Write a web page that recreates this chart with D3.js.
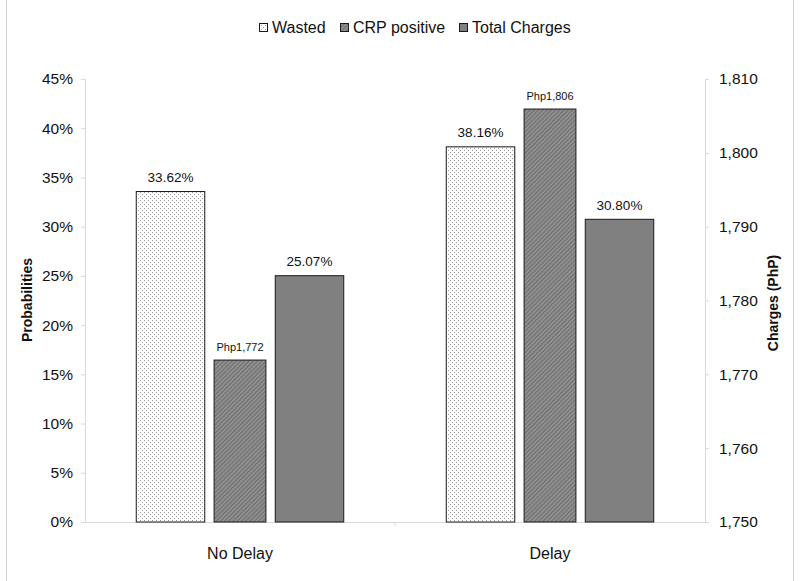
<!DOCTYPE html>
<html>
<head>
<meta charset="utf-8">
<script src="https://cdn.jsdelivr.net/npm/d3@7"></script>
<style>
  html, body { margin: 0; padding: 0; background: #fff; }
  svg { display: block; font-family: "Liberation Sans", Arial, sans-serif; }
</style>
</head>
<body>
<svg id="chart" width="800" height="581"></svg>
<script>
// ---- data ----
const categories = ["No Delay", "Delay"];
const seriesNames = ["Wasted", "CRP positive", "Total Charges"];
const wastedValues = [33.62, 38.16];          // % (left axis)
const chargesValues = [1772, 1806];           // PhP (right axis, hatched bar)
const thirdValues = [25.07, 30.80];           // % (left axis)
const leftTicks = [0, 5, 10, 15, 20, 25, 30, 35, 40, 45];
const rightTicks = [1750, 1760, 1770, 1780, 1790, 1800, 1810];

const svg = d3.select("#chart");
const W = 800, H = 581;
const m = { left: 85, right: 705, top: 79, bottom: 522 };

// patterns
const defs = svg.append("defs");
const dots = defs.append("pattern").attr("id", "dots")
  .attr("patternUnits", "userSpaceOnUse").attr("width", 4).attr("height", 4);
dots.append("rect").attr("width", 4).attr("height", 4).attr("fill", "#fff");
dots.append("rect").attr("x", 0).attr("y", 0).attr("width", 1).attr("height", 1).attr("fill", "#999");
dots.append("rect").attr("x", 2).attr("y", 2).attr("width", 1).attr("height", 1).attr("fill", "#999");

const hatch = defs.append("pattern").attr("id", "hatch")
  .attr("patternUnits", "userSpaceOnUse").attr("width", 3).attr("height", 3)
  .attr("patternTransform", "rotate(45)");
hatch.append("rect").attr("width", 3).attr("height", 3).attr("fill", "#959595");
hatch.append("line").attr("x1", 0.75).attr("y1", 0).attr("x2", 0.75).attr("y2", 3)
  .attr("stroke", "#666").attr("stroke-width", 1.1);

const fills = ["url(#dots)", "url(#hatch)", "#808080"];

// frame (side edges)
[6.5, 793.5].forEach(xv => svg.append("line")
  .attr("x1", xv).attr("x2", xv).attr("y1", 0).attr("y2", H)
  .attr("stroke", "#d4d4d4"));

// scales
const x0 = d3.scaleBand().domain(categories).range([m.left, m.right]).padding(0);
const x1 = d3.scaleBand().domain(seriesNames).range([-104.25, 104.25]).padding(0);
const yL = d3.scaleLinear().domain([0, 45]).range([m.bottom, m.top]);
const yR = d3.scaleLinear().domain([1750, 1810]).range([m.bottom, m.top]);

// axes
const axisColor = "#d9d9d9";
const gL = svg.append("g").attr("transform", `translate(${m.left},0)`)
  .call(d3.axisLeft(yL).tickValues(leftTicks).tickSize(4).tickPadding(8).tickFormat(d => d + "%"));
const gR = svg.append("g").attr("transform", `translate(${m.right},0)`)
  .call(d3.axisRight(yR).tickValues(rightTicks).tickSize(4).tickPadding(10).tickFormat(d3.format(",")));
const gX = svg.append("g").attr("transform", `translate(0,${m.bottom})`)
  .call(d3.axisBottom(x0).tickSize(0).tickPadding(26));
[gL, gR, gX].forEach(g => {
  g.selectAll(".domain").attr("stroke", axisColor);
  g.selectAll(".tick line").attr("stroke", axisColor);
  g.selectAll("text").attr("fill", "#111").attr("font-family", "Liberation Sans, Arial, sans-serif");
});
gL.selectAll("text").attr("font-size", 15.5);
gR.selectAll("text").attr("font-size", 15.5);
gX.selectAll("text").attr("font-size", 16);
// category boundary tick
svg.append("line")
  .attr("x1", x0("Delay")).attr("x2", x0("Delay"))
  .attr("y1", m.bottom).attr("y2", m.bottom + 4).attr("stroke", axisColor);

// bars
const groups = svg.append("g").selectAll("g").data(categories).join("g")
  .attr("transform", d => `translate(${x0(d) + x0.bandwidth() / 2},0)`);

const barData = (c, i) => [
  { s: seriesNames[0], v: wastedValues[i], y: yL(wastedValues[i]), w: x1.bandwidth(), label: wastedValues[i].toFixed(2) + "%", fs: 13.5 },
  { s: seriesNames[1], v: chargesValues[i], y: yR(chargesValues[i]), w: x1.bandwidth() * 0.76, label: "Php" + d3.format(",")(chargesValues[i]), fs: 11 },
  { s: seriesNames[2], v: thirdValues[i], y: yL(thirdValues[i]), w: x1.bandwidth(), label: thirdValues[i].toFixed(2) + "%", fs: 13.5 }
];

groups.each(function(c, i) {
  const g = d3.select(this);
  const bd = barData(c, i);
  g.selectAll("rect").data(bd).join("rect")
    .attr("x", (d) => x1(d.s) + x1.bandwidth() / 2 - d.w / 2 + 0.5)
    .attr("y", d => d.y + 0.5)
    .attr("width", d => d.w - 1)
    .attr("height", d => m.bottom - d.y - 0.5)
    .attr("fill", (d, j) => fills[j])
    .attr("stroke", "#1a1a1a").attr("stroke-width", 1);
  g.selectAll("text").data(bd).join("text")
    .attr("x", d => x1(d.s) + x1.bandwidth() / 2)
    .attr("y", d => d.y - 9)
    .attr("text-anchor", "middle")
    .attr("font-size", d => d.fs)
    .attr("fill", "#111")
    .text(d => d.label);
});

// axis titles
svg.append("text").attr("transform", `translate(32,300) rotate(-90)`)
  .attr("text-anchor", "middle").attr("font-size", 14).attr("font-weight", "bold").attr("fill", "#111")
  .text("Probabilities");
svg.append("text").attr("transform", `translate(778,303) rotate(-90)`)
  .attr("text-anchor", "middle").attr("font-size", 14).attr("font-weight", "bold").attr("fill", "#111")
  .text("Charges (PhP)");

// legend
const legendX = [259, 340, 459];
const lg = svg.append("g").selectAll("g").data(seriesNames).join("g")
  .attr("transform", (d, i) => `translate(${legendX[i]},23)`);
lg.append("rect").attr("x", 0.5).attr("y", 0.5).attr("width", 8).attr("height", 8)
  .attr("fill", (d, i) => fills[i]).attr("stroke", "#1a1a1a");
lg.append("text").attr("x", 13).attr("y", 10).attr("font-size", 16).attr("fill", "#111").text(d => d);
</script>
</body>
</html>
